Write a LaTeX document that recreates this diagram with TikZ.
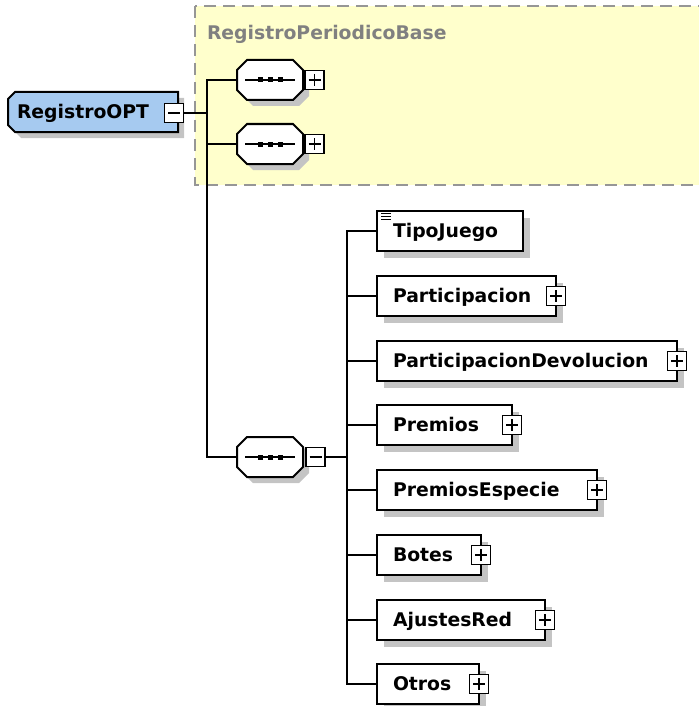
\documentclass[tikz,border=0pt]{standalone}
\usepackage{fontspec}
\setmainfont{DejaVu Sans}
\usetikzlibrary{calc,shadows}

\definecolor{elemblue}{RGB}{166,202,240}
\definecolor{groupyellow}{RGB}{255,255,204}
\definecolor{groupedge}{RGB}{150,150,150}
\definecolor{shade}{RGB}{196,196,196}
\definecolor{labelgray}{RGB}{128,128,128}

% Outline of a node with chamfered corners.
% #1 node, #2 right chamfer, #3 left chamfer, #4 offset (for shadows), #5 path options
\newcommand{\chamferedshape}[5]{%
  \path[#5] ($(#1.north west)+(#3+#4,#4)$) -- ($(#1.north east)+(-#2+#4,#4)$)
    -- ($(#1.north east)+(#4,#2+#4)$) -- ($(#1.south east)+(#4,-#2+#4)$)
    -- ($(#1.south east)+(-#2+#4,#4)$) -- ($(#1.south west)+(#3+#4,#4)$)
    -- ($(#1.south west)+(#4,-#3+#4)$) -- ($(#1.north west)+(#4,#3+#4)$) -- cycle;}

\begin{document}
\begin{tikzpicture}[x=1pt,y=-1pt,
  every node/.style={font=\fontsize{18.8}{22}\selectfont\bfseries, outer sep=0pt},
  seqframe/.style={minimum width=66pt, minimum height=40pt, inner sep=0pt},
  elem/.style={draw, line width=2pt, fill=white, anchor=west, minimum height=40pt,
    inner xsep=16pt, inner ysep=0pt, text height=13.7pt, text depth=0pt,
    align=left, text width=#1pt,
    drop shadow={shadow xshift=7pt, shadow yshift=-7pt, opacity=1, fill=shade}},
  togglebox/.style={draw, line width=1.5pt, fill=white, minimum size=19pt, inner sep=0pt},
  expandbox/.style={togglebox, path picture={
    \draw[line width=1.5pt] ($(path picture bounding box.center)+(-6,0)$) -- +(12,0)
      ($(path picture bounding box.center)+(0,-6)$) -- +(0,12);}},
  collapsebox/.style={togglebox, path picture={
    \draw[line width=1.5pt] ($(path picture bounding box.center)+(-6,0)$) -- +(12,0);}},
  link/.style={line width=2pt}
]
\useasboundingbox (0,0) rectangle (698,706);

% base type group
\draw[groupedge, fill=groupyellow, line width=2pt, dash pattern=on 12pt off 7pt]
  (195,6) rectangle (720,185);
\node[anchor=base west, inner sep=0pt, text=labelgray] (grp) at (207,40) {RegistroPeriodicoBase};

% root element
\node[minimum width=170pt, minimum height=40pt, inner sep=0pt] (r0) at (93,112) {};
\chamferedshape{r0}{0}{7}{6}{fill=shade}
\chamferedshape{r0}{0}{7}{0}{draw, line width=2pt, fill=elemblue}
\node[anchor=west, inner sep=0pt, text height=13.7pt, text depth=0pt] (r0label)
  at ($(r0.west)+(9,0)$) {RegistroOPT};
\node[collapsebox] (r0t) at ($(r0.east)+(-4,1)$) {};

% sequence compositors
\foreach \n/\y in {s1/80, s2/144, s3/457} {
  \node[seqframe] (\n) at (270,\y) {};
  \chamferedshape{\n}{10}{10}{6}{fill=shade}
  \chamferedshape{\n}{10}{10}{0}{draw, line width=2pt, fill=white}
  \draw[line width=1.5pt] ($(\n.center)+(-25,0)$) -- ($(\n.center)+(25,0)$);
  \foreach \dx in {-10,0,10}
    \fill ($(\n.center)+(\dx-2.5,-2.5)$) rectangle +(5,5);
}
\node[expandbox, anchor=west] (s1t) at ($(s1.east)+(2,0)$) {};
\node[expandbox, anchor=west] (s2t) at ($(s2.east)+(2,0)$) {};
\node[collapsebox, anchor=west] (s3t) at ($(s3.east)+(3,0)$) {};

\coordinate (t0) at (207,113);
\draw[link] (r0t.east) -- (t0);
\draw[link] (s1.west) -- (s1.west -| t0) -- (s3.west -| t0) -- (s3.west);
\draw[link] (s2.west) -- (s2.west -| t0);

% child elements
\foreach \n/\y/\t/\w in {tj/231/TipoJuego/114, pa/296/Participacion/147,
    pd/361/ParticipacionDevolucion/268, pr/425/Premios/103,
    pe/490/PremiosEspecie/188, bo/555/Botes/72,
    ar/620/AjustesRed/136, ot/684/Otros/70}
  \node[elem=\w] (\n) at (377,\y) {\t};

\foreach \n in {pa,pd,pr,pe,bo,ar,ot}
  \node[expandbox] (\n-t) at (\n.east) {};

% simple-type marker
\foreach \dy in {2,5,8}
  \draw[line width=1pt] ($(tj.north west)+(4,\dy)$) -- +(10,0);

\coordinate (t1) at (347,457);
\draw[link] (s3t.east) -- (t1);
\draw[link] (tj.west) -- (tj.west -| t1) -- (ot.west -| t1) -- (ot.west);
\foreach \n in {pa,pd,pr,pe,bo,ar}
  \draw[link] (\n.west) -- (\n.west -| t1);
\end{tikzpicture}
\end{document}
